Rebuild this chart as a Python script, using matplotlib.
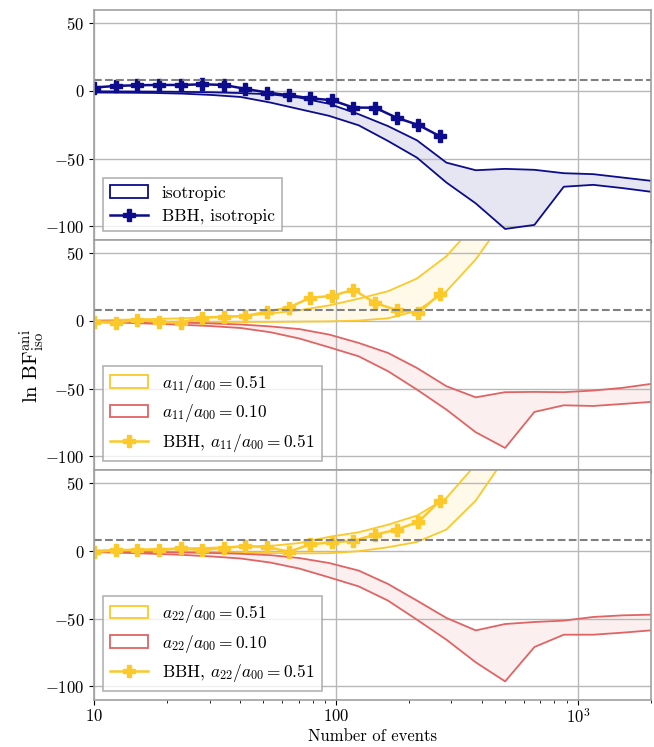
import numpy as np
import matplotlib
matplotlib.use("Agg")
import matplotlib.pyplot as plt

plt.rcParams.update({
    'font.family': 'serif',
    'font.serif': ['cmr10'],
    'mathtext.fontset': 'cm',
    'axes.formatter.use_mathtext': True,
    'font.size': 11,
    'axes.unicode_minus': True,
})

# number of events for the injection bands and for the BBH points
n_band = [10, 13.2, 17.5, 23.1, 30.6, 40.4, 53.5, 70.7, 93.5, 124,
          164, 216, 286, 378, 500, 661, 874, 1156, 1528, 2000]
n_bbh = [10, 12.3, 15.1, 18.5, 22.8, 28.0, 34.4, 42.2, 51.9, 63.7,
         78.3, 96.2, 118, 145, 178, 219, 269]

# isotropic
iso_hi = [-0.3, -0.4, -0.5, -0.7, -1.0, -1.6, -2.5, -5.0, -9.5, -17.2,
          -26.0, -36.5, -53.0, -58.6, -57.6, -58.3, -60.8, -61.5, -64.0, -66.4]
iso_lo = [-1.2, -1.3, -1.5, -2.0, -3.0, -4.5, -8.6, -13.5, -18.4, -25.4,
          -37.0, -49.3, -67.7, -83.1, -102.0, -99.0, -70.8, -69.4, -71.8, -74.5]
bbh_iso = [2.5, 3.7, 4.2, 4.4, 4.4, 4.9, 4.4, 1.5, -1.2, -3.2,
           -5.4, -6.9, -12.3, -12.4, -19.8, -25.2, -33.5]

# a11 / a00
a11_51_hi = [0.5, 1.0, 1.5, 2.0, 2.8, 3.8, 5.5, 8.0, 11.5, 16.5,
             22.0, 31.4, 47.9, 72.0, 110, 150, 190, 230, 270, 310]
a11_51_lo = [0.0, -0.3, -0.5, -0.6, -0.7, -0.7, -0.7, -0.5, -0.3, 0.3,
             2.0, 7.5, 22.0, 45.5, 76.0, 105, 140, 175, 210, 250]
a11_10_hi = [-0.3, -0.5, -0.8, -1.2, -1.8, -2.6, -4.0, -6.0, -10.0, -16.2,
             -23.6, -34.7, -48.2, -56.4, -52.6, -52.4, -52.6, -51.4, -49.4, -46.5]
a11_10_lo = [-0.8, -1.3, -2.0, -2.8, -3.8, -5.2, -8.3, -13.0, -19.4, -26.1,
             -37.1, -50.7, -65.5, -82.2, -93.8, -67.2, -62.3, -62.8, -61.3, -59.8]
bbh_a11 = [-0.7, -1.2, 0.7, -0.7, -1.2, 2.5, 3.0, 3.7, 6.9, 9.9,
           17.2, 18.5, 23.1, 13.4, 8.0, 6.0, 20.1]

# a22 / a00
a22_51_hi = [0.5, 1.0, 1.5, 2.0, 2.5, 3.0, 3.8, 6.0, 10.5, 13.9,
             19.5, 26.2, 39.3, 64.0, 100, 140, 180, 220, 260, 300]
a22_51_lo = [-0.5, -0.5, -0.7, -0.8, -1.0, -1.2, -1.5, -1.7, -1.6, -0.1,
             2.8, 6.7, 15.9, 37.3, 69.0, 110, 150, 190, 230, 270]
a22_10_hi = [-0.3, -0.5, -0.7, -1.0, -1.4, -2.0, -3.0, -5.2, -8.8, -14.4,
             -24.3, -36.6, -49.4, -58.6, -53.9, -52.4, -51.4, -48.7, -47.5, -47.0]
a22_10_lo = [-0.8, -1.3, -2.0, -2.8, -4.0, -5.5, -8.5, -13.0, -19.4, -26.1,
             -36.6, -50.7, -65.5, -82.2, -96.3, -70.9, -61.8, -61.8, -60.3, -58.6]
bbh_a22 = [-0.7, 0.5, 0.7, 0.7, 2.0, 0.7, 2.5, 3.7, 3.0, -0.5,
           4.9, 6.6, 7.5, 12.1, 15.9, 21.5, 37.3]

threshold = 8.0

navy = '#0c0c8c'
yellow = '#fbc92a'
red = '#e06464'


def band(ax, hi, lo, color, label):
    ax.fill_between(n_band, lo, hi, facecolor=color, alpha=0.1)
    ax.plot(n_band, hi, color=color, lw=1.3)
    ax.plot(n_band, lo, color=color, lw=1.3)
    # legend proxy: white-ish box with coloured edge
    ax.fill_between([], [], [], facecolor=(1, 1, 1, 0), edgecolor=color,
                    lw=1.3, label=label)


def bbh(ax, vals, color, label):
    ax.plot(n_bbh, vals, color=color, lw=1.8, marker='P', ms=9,
            mec=color, label=label)


fig, axes = plt.subplots(3, 1, figsize=(6.54, 7.47), sharex=True)
fig.subplots_adjust(left=0.144, right=0.995, top=0.987, bottom=0.063, hspace=0)

band(axes[0], iso_hi, iso_lo, navy, 'isotropic')
bbh(axes[0], bbh_iso, navy, 'BBH, isotropic')

band(axes[1], a11_51_hi, a11_51_lo, yellow, r'$a_{11}/a_{00} = 0.51$')
band(axes[1], a11_10_hi, a11_10_lo, red, r'$a_{11}/a_{00} = 0.10$')
bbh(axes[1], bbh_a11, yellow, r'BBH, $a_{11}/a_{00} = 0.51$')

band(axes[2], a22_51_hi, a22_51_lo, yellow, r'$a_{22}/a_{00} = 0.51$')
band(axes[2], a22_10_hi, a22_10_lo, red, r'$a_{22}/a_{00} = 0.10$')
bbh(axes[2], bbh_a22, yellow, r'BBH, $a_{22}/a_{00} = 0.51$')

for ax in axes:
    ax.set_xscale('log')
    ax.set_xlim(10, 2000)
    ax.set_ylim(-110, 60)
    ax.set_yticks([-100, -50, 0, 50])
    ax.axhline(threshold, color='gray', ls='--', lw=1.5)
    ax.grid(True, which='major', color='#b8b8b8', lw=1.0)
    for s in ax.spines.values():
        s.set_color('#a0a0a0')
        s.set_linewidth(1.2)
    ax.tick_params(axis='both', labelsize=12)
    leg = ax.legend(loc='lower left', fancybox=False, edgecolor='#a0a0a0',
                    fontsize=12.5, handlelength=2.2, borderpad=0.4,
                    labelspacing=0.45)
    leg.get_frame().set_linewidth(1.2)

axes[2].set_xticks([10, 100, 1000])
axes[2].set_xticklabels(['$10$', '$100$', '$10^3$'])
axes[2].tick_params(axis='x', pad=2)
axes[2].set_xlabel('Number of events', fontsize=12, labelpad=2)
axes[1].set_ylabel(r'$\ln\,\mathrm{BF}^{\mathrm{ani}}_{\mathrm{iso}}$', fontsize=15)
axes[1].yaxis.set_label_coords(-0.085, 0.45)

fig.savefig('out.png', dpi=100)
